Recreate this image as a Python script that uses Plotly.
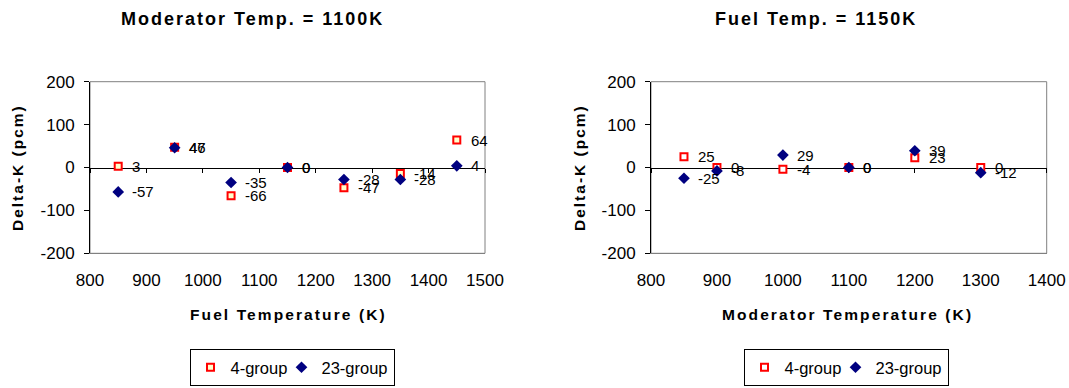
import plotly.graph_objects as go

# Left panel: reactivity change vs fuel temperature (moderator at 1100 K)
fuel_temp = [850, 950, 1050, 1150, 1250, 1350, 1450]
fuel_4g = [3, 47, -66, 0, -47, -14, 64]
fuel_23g = [-57, 46, -35, 0, -28, -28, 4]

# Right panel: reactivity change vs moderator temperature (fuel at 1150 K)
mod_temp = [850, 900, 1000, 1100, 1200, 1300]
mod_4g = [25, 0, -4, 0, 23, 0]
mod_23g = [-25, -8, 29, 0, 39, -12]

y_ticks = [-200, -100, 0, 100, 200]
fuel_ticks = [800, 900, 1000, 1100, 1200, 1300, 1400, 1500]
mod_ticks = [800, 900, 1000, 1100, 1200, 1300, 1400]

W, H = 1069, 388
FONT = "Liberation Sans, Arial, sans-serif"
RED = "#FF0000"
NAVY = "#000080"
GRAY = "#808080"


def px(x):
    return x / W


def py(y):
    return 1 - y / H


def spaced(text, sp):
    return f'<span style="letter-spacing:{sp}px">{text}</span>'


y_dom = [py(253.3), py(81.7)]
y_mid = (y_dom[0] + y_dom[1]) / 2

fig = go.Figure()

# 4-group squares drawn first, 23-group diamonds on top
fig.add_trace(go.Scatter(
    x=fuel_temp, y=fuel_4g, mode="markers", name="4-group",
    xaxis="x", yaxis="y", legend="legend", legendwidth=46,
    marker=dict(symbol="square", size=7, color="#FFFFCC",
                line=dict(color=RED, width=2)),
))
fig.add_trace(go.Scatter(
    x=fuel_temp, y=fuel_23g, mode="markers", name="23-group",
    xaxis="x3", yaxis="y", legend="legend",
    marker=dict(symbol="diamond", size=9, color=NAVY, line=dict(width=0)),
))
fig.add_trace(go.Scatter(
    x=mod_temp, y=mod_4g, mode="markers", name="4-group",
    xaxis="x2", yaxis="y2", legend="legend2", legendwidth=46,
    marker=dict(symbol="square", size=7, color="white",
                line=dict(color=RED, width=2)),
))
fig.add_trace(go.Scatter(
    x=mod_temp, y=mod_23g, mode="markers", name="23-group",
    xaxis="x4", yaxis="y2", legend="legend2",
    marker=dict(symbol="diamond", size=9, color=NAVY, line=dict(width=0)),
))

tick_font = dict(family=FONT, size=17, color="black")


def bottom_axis(dom, rng, ticks, anchor):
    return dict(domain=dom, range=rng, tickvals=ticks, anchor=anchor,
                showline=True, linecolor=GRAY, linewidth=1, ticks="",
                showgrid=False, zeroline=False, tickfont=tick_font,
                ticklabelstandoff=11, fixedrange=True, automargin=False)


def zero_axis(over, rng, ticks):
    return dict(overlaying=over, anchor="free", position=y_mid, range=rng,
                tickvals=ticks, showticklabels=False, ticks="outside",
                ticklen=4, tickcolor="black", showline=True, linecolor="black",
                linewidth=1, showgrid=False, zeroline=False,
                layer="below traces", fixedrange=True, automargin=False)


def left_axis(anchor):
    return dict(domain=y_dom, range=[-200, 200], tickvals=y_ticks,
                ticktext=[str(v) for v in y_ticks],
                anchor=anchor, showline=True, linecolor="black", linewidth=1,
                ticks="outside", ticklen=5, tickcolor="black",
                showgrid=False, zeroline=False, tickfont=tick_font,
                ticklabelstandoff=6, fixedrange=True, automargin=False)


legend_style = dict(orientation="h", xanchor="center", y=py(386),
                    yanchor="bottom", bordercolor="black", borderwidth=1,
                    bgcolor="white",
                    font=dict(family=FONT, size=16.5, color="black"))

fig.update_layout(
    width=W, height=H,
    margin=dict(l=0, r=0, t=0, b=0, autoexpand=False),
    paper_bgcolor="white", plot_bgcolor="rgba(0,0,0,0)",
    showlegend=True,
    xaxis=bottom_axis([px(90), px(485)], [800, 1500], fuel_ticks, "y"),
    xaxis2=bottom_axis([px(651), px(1046.7)], [800, 1400], mod_ticks, "y2"),
    xaxis3=zero_axis("x", [800, 1500], fuel_ticks),
    xaxis4=zero_axis("x2", [800, 1400], mod_ticks),
    yaxis=left_axis("x"),
    yaxis2=left_axis("x2"),
    legend=dict(legend_style, x=px(292)),
    legend2=dict(legend_style, x=px(846)),
)

# Plot-area frames (gray), drawn under the black axes
for xr, yr in (("x", "y"), ("x2", "y2")):
    fig.add_shape(type="rect", xref=f"{xr} domain", yref=f"{yr} domain",
                  x0=0, x1=1, y0=0, y1=1, layer="below",
                  line=dict(color=GRAY, width=1), fillcolor="rgba(0,0,0,0)")

ann = []
label_font = dict(family=FONT, size=15, color="black")
for xs, ys, xr, yr in ((fuel_temp, fuel_4g, "x", "y"),
                       (fuel_temp, fuel_23g, "x", "y"),
                       (mod_temp, mod_4g, "x2", "y2"),
                       (mod_temp, mod_23g, "x2", "y2")):
    for xv, yv in zip(xs, ys):
        ann.append(dict(x=xv, y=yv, xref=xr, yref=yr, text=str(yv),
                        showarrow=False, xanchor="left", yanchor="middle",
                        xshift=12, font=label_font))

title_font = dict(family=FONT, size=18, color="black", weight="bold")
axis_font = dict(family=FONT, size=15.5, color="black", weight="bold")

ann += [
    dict(x=px(252.5), y=py(19), xref="paper", yref="paper", showarrow=False,
         text=spaced("Moderator Temp. = 1100K", 2), font=title_font,
         xanchor="center", yanchor="middle"),
    dict(x=px(816), y=py(19), xref="paper", yref="paper", showarrow=False,
         text=spaced("Fuel Temp. = 1150K", 2), font=title_font,
         xanchor="center", yanchor="middle"),
    dict(x=px(288), y=py(314), xref="paper", yref="paper", showarrow=False,
         text=spaced("Fuel Temperature (K)", 2.1), font=axis_font,
         xanchor="center", yanchor="middle"),
    dict(x=px(847), y=py(314), xref="paper", yref="paper", showarrow=False,
         text=spaced("Moderator Temperature (K)", 2.1), font=axis_font,
         xanchor="center", yanchor="middle"),
    dict(x=px(17), y=py(168), xref="paper", yref="paper", showarrow=False,
         text=spaced("Delta-K (pcm)", 2), font=axis_font, textangle=-90,
         xanchor="center", yanchor="middle"),
    dict(x=px(579), y=py(168), xref="paper", yref="paper", showarrow=False,
         text=spaced("Delta-K (pcm)", 2), font=axis_font, textangle=-90,
         xanchor="center", yanchor="middle"),
]
fig.update_layout(annotations=ann)

# Page body without default margins so the figure fills the window exactly
fig.write_html(
    "out.html",
    post_script="document.body.style.margin='0';"
                "document.documentElement.style.overflow='hidden';",
)
